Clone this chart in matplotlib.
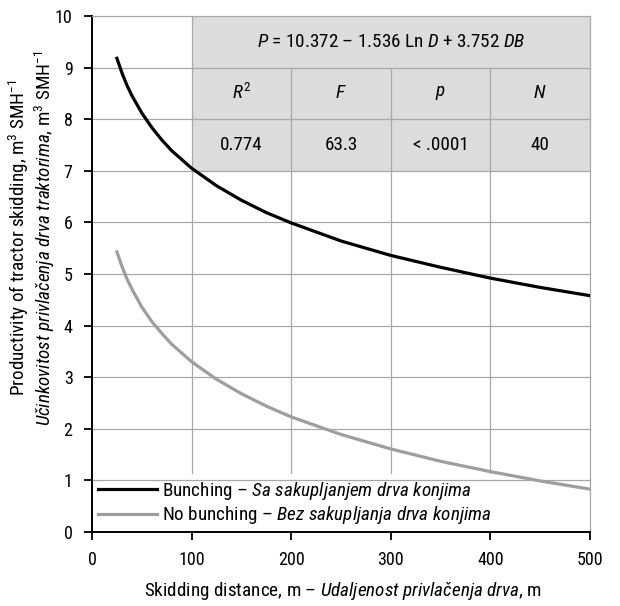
import matplotlib
matplotlib.use("Agg")
import matplotlib.pyplot as plt
from matplotlib import font_manager as fm

# values (skidding distance D, m -> productivity, m3/SMH)
distance = [25, 30, 35, 40, 50, 60, 70, 80, 100, 125, 150, 175, 200, 250, 300, 350, 400, 450, 500]
bunching = [9.18, 8.90, 8.66, 8.46, 8.12, 7.84, 7.60, 7.39, 7.05, 6.71, 6.43, 6.19, 5.99,
            5.64, 5.36, 5.13, 4.92, 4.74, 4.58]
no_bunching = [5.43, 5.15, 4.91, 4.71, 4.36, 4.08, 3.85, 3.64, 3.30, 2.96, 2.68, 2.44, 2.23,
               1.89, 1.61, 1.37, 1.17, 0.99, 0.83]

stat_names = ["$R^2$", "$F$", "$p$", "$N$"]
stat_values = ["0.774", "63.3", "< .0001", "40"]
equation = "$P$ = 10.372 – 1.536 Ln $D$ + 3.752 $DB$"

labels = ["Bunching – $\\mathit{Sa\\ sakupljanjem\\ drva\\ konjima}$",
          "No bunching – $\\mathit{Bez\\ sakupljanja\\ drva\\ konjima}$"]

names = {f.name for f in fm.fontManager.ttflist}
FONT = next(f for f in ["Liberation Sans Narrow", "Roboto Condensed", "Archivo Narrow", "Liberation Sans"]
            if f in names)
plt.rcParams["font.family"] = [FONT, "DejaVu Sans"]
plt.rcParams["mathtext.fontset"] = "custom"
plt.rcParams["mathtext.rm"] = FONT
plt.rcParams["mathtext.it"] = FONT + ":italic"
plt.rcParams["mathtext.bf"] = FONT + ":bold"

GRID = "#a8a8a8"
FS = 13.8

fig = plt.figure(figsize=(6.2, 6.06), dpi=100)
ax = fig.add_axes([92 / 620, 1 - 532 / 606, 498 / 620, 516 / 606])
ax.set_xlim(0, 500)
ax.set_ylim(0, 10)

# grey statistics table in the upper right
ax.axvspan(100, 500, ymin=0.7, ymax=1.0, color="#dcdcdc", lw=0, zorder=0)

# grid (no inner verticals in the equation row); horizontals sit above the legend box
ax.hlines(range(1, 10), 0, 500, color=GRID, lw=0.9, zorder=2.5)
ax.vlines(100, 0, 10, color=GRID, lw=0.9, zorder=1)
ax.vlines([200, 300, 400], 0, 9, color=GRID, lw=0.9, zorder=1)

ax.text(300, 9.5, equation, ha="center", va="center", fontsize=FS)
for i, (nm, val) in enumerate(zip(stat_names, stat_values)):
    ax.text(150 + 100 * i, 8.5, nm, ha="center", va="center", fontsize=FS)
    ax.text(150 + 100 * i, 7.5, val, ha="center", va="center", fontsize=FS)

ax.plot(distance, bunching, color="black", lw=2.3, zorder=3, label=labels[0])
ax.plot(distance, no_bunching, color="#9e9e9e", lw=2.3, zorder=3, label=labels[1])

leg = ax.legend(loc="lower left", bbox_to_anchor=(0, 0.0), borderaxespad=0, fontsize=FS,
                frameon=True, fancybox=False, framealpha=1, edgecolor="none",
                handlelength=3.1, handletextpad=0.25, labelspacing=0.12, borderpad=0.3)
leg.set_zorder(2)

for s in ["top", "right"]:
    ax.spines[s].set_color(GRID)
    ax.spines[s].set_linewidth(0.9)
for s in ["left", "bottom"]:
    ax.spines[s].set_color("black")
    ax.spines[s].set_linewidth(1.4)

ax.set_xticks(range(0, 501, 100))
ax.set_yticks(range(0, 11))
ax.tick_params(direction="out", length=6, width=1.3, color="black", labelsize=13, pad=8)

fig.text(343 / 620, 1 - 590 / 606,
         "Skidding distance, m – $\\mathit{Udaljenost\\ privla\u010denja\\ drva}$, m",
         ha="center", va="center", fontsize=FS)
fig.text(32 / 620, 1 - 238 / 606,
         "Productivity of tractor skidding, m$^3$ SMH$^{-1}$\n"
         "$\\mathit{U\u010dinkovitost\\ privla\u010denja\\ drva\\ traktorima}$, m$^3$ SMH$^{-1}$",
         ha="center", va="center", rotation=90, fontsize=FS, multialignment="center",
         linespacing=1.1)

fig.savefig("out.png", dpi=100)
